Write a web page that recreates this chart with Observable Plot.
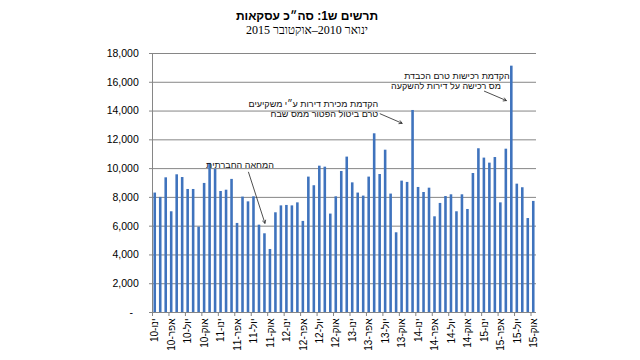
<!DOCTYPE html>
<html>
<head>
<meta charset="utf-8">
<script src="https://cdn.jsdelivr.net/npm/d3@7"></script>
<script src="https://cdn.jsdelivr.net/npm/@observablehq/plot@0.6"></script>
<style>
  body { margin: 0; background: #fff; }
  #wrap { width: 640px; height: 360px; position: relative; overflow: hidden; background: #fff; }
  #title { position: absolute; top: 9px; left: 0; width: 614px; text-align: center; direction: rtl;
           font: bold 12px "Liberation Sans", Arial, sans-serif; line-height: 14px; color: #000; }
  #subtitle { position: absolute; top: 23px; left: 0; width: 614px; text-align: center; direction: rtl;
           font: 12px "Liberation Serif", "Times New Roman", serif; line-height: 14px; color: #000; }
  #chart { position: absolute; top: 40px; left: 0; }
</style>
</head>
<body>
<div id="wrap">
  <div id="title">תרשים ש1: סה״כ עסקאות</div>
  <div id="subtitle">ינואר 2010–אוקטובר 2015</div>
  <div id="chart"></div>
</div>
<script>
const monthNames = ["ינו","פבר","מרץ","אפר","מאי","יונ","יול","אוג","ספט","אוק","נוב","דצמ"];
const years = ["10","11","12","13","14","15"];
const tickMonths = ["ינו","אפר","יול","אוק"];
const yTicks = [0, 2000, 4000, 6000, 8000, 10000, 12000, 14000, 16000, 18000];
const values = [
  8300, 8000, 9360, 7000, 9570, 9380, 8550, 8550, 5930, 8970, 10360, 9960,
  8410, 8500, 9250, 6190, 8020, 7690, 8040, 6070, 5470, 4380, 6930, 7410,
  7440, 7410, 7620, 6330, 9410, 8810, 10170, 10100, 6840, 8040, 9800, 10800,
  9010, 8300, 8090, 9410, 12420, 9590, 11280, 8230, 5540, 9130, 9040, 14040,
  8690, 8340, 8640, 6650, 7580, 8060, 8180, 7000, 8180, 7160, 9660, 11380,
  10730, 10380, 10770, 7620, 11350, 17120, 8920, 8670, 6530, 7720
];
const notesEnd = [
  {month: "נוב-11", value: 10220, text: "המחאה החברתית"},
  {month: "יונ-13", value: 14500, text: "הקדמת מכירת דירות ע״י משקיעים"},
  {month: "יונ-13", value: 13810, text: "טרם ביטול הפטור ממס שבח"}
];
const notesMiddle = [
  {month: "אוג-14", value: 16440, text: "הקדמת רכישות טרם הכבדת"},
  {month: "יונ-14", value: 15720, text: "מס רכישה על דירות להשקעה"}
];
const arrows = [
  {from: "יונ-11", fromValue: 9750, to: "ספט-11", toValue: 6200},
  {from: "יונ-13", fromValue: 13810, to: "אוק-13", toValue: 13150},
  {from: "ינו-15", fromValue: 15380, to: "מאי-15", toValue: 14730}
];

const months = years.flatMap(y => monthNames.map(m => `${m}-${y}`)).slice(0, values.length);
const tickLabels = months.filter(m => tickMonths.includes(m.split("-")[0]));
const data = months.map((m, i) => ({month: m, value: values[i]}));

const W = 640, mL = 152, mR = 104;
const step = (W - mL - mR) / months.length;
const grey = "#868686";

const chart = Plot.plot({
  width: W,
  height: 320,
  marginTop: 13,
  marginBottom: 48,
  marginLeft: mL,
  marginRight: mR,
  style: {fontFamily: "'Liberation Sans', Arial, sans-serif", fontSize: "10.5px", color: "#000", background: "#fff"},
  x: {domain: months, paddingInner: 0.53, paddingOuter: 0.265, label: null},
  y: {domain: [0, 18000], label: null},
  marks: [
    Plot.gridY({ticks: yTicks, stroke: grey, strokeOpacity: 1}),
    Plot.frame({anchor: "left", stroke: grey}),
    Plot.barY(data, {x: "month", y: "value", fill: "#3f73bd"}),
    Plot.axisY({ticks: yTicks, tickSize: 3, tickPadding: 10.7, stroke: grey, label: null,
      tickFormat: d => d === 0 ? "-\u2007" : d3.format(",")(d), fontSize: 10.5}),
    Plot.axisX({ticks: tickLabels, tickSize: 4, tickFormat: () => "", dx: -step / 2, stroke: grey, label: null}),
    Plot.axisX({ticks: tickLabels, tickSize: 0, tickPadding: 6, tickRotate: -90, label: null, fontSize: 10}),
    Plot.text(notesEnd, {x: "month", y: "value", text: "text", textAnchor: "end", dx: -2, fontSize: 9, fill: "#111"}),
    Plot.text(notesMiddle, {x: "month", y: "value", text: "text", textAnchor: "middle", fontSize: 9, fill: "#111"}),
    Plot.arrow(arrows, {x1: "from", y1: "fromValue", x2: "to", y2: "toValue", stroke: "#222", strokeWidth: 0.8, headLength: 6})
  ]
});
document.getElementById("chart").appendChild(chart);
</script>
</body>
</html>
